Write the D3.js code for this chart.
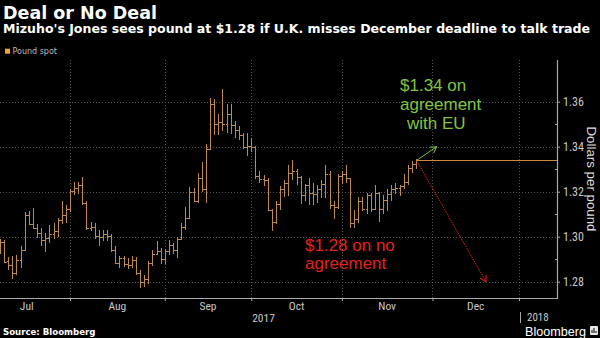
<!DOCTYPE html>
<html><head><meta charset="utf-8">
<script src="https://cdn.jsdelivr.net/npm/d3@7"></script>
<style>body{margin:0;background:#000;} svg{display:block;background:#000}</style>
</head><body>
<svg id="c" width="600" height="338"></svg>
<script>
// ---------- data ----------
const weekdayOrigin = "2017-07-03";
const firstDate = "2017-07-06";
const lastDate = "2017-11-24";

const open = [
 1.2930,1.2975,1.2890,1.2876,1.2840,1.2895,1.2940,1.3095,1.3058,1.3040,1.3015,1.2985,1.2995,1.3010,1.3025,1.3075,1.3095,1.3125,
 1.3205,1.3215,1.3230,1.3150,1.3040,1.3045,1.3005,1.3000,1.3010,1.3005,1.2940,1.2885,1.2905,1.2880,1.2875,1.2895,1.2840,1.2800,1.2810,1.2885,1.2925,1.2935,1.2900,
 1.2935,1.2965,1.2940,1.2990,1.3045,1.3085,1.3200,1.3160,1.3260,1.3210,1.3390,1.3590,1.3500,1.3510,1.3500,1.3545,1.3495,1.3475,1.3450,1.3400,1.3405,
 1.3400,1.3270,1.3255,1.3250,1.3120,1.3065,1.3145,1.3210,1.3240,1.3285,1.3290,1.3265,1.3185,1.3230,1.3195,1.3190,1.3210,1.3235,1.3280,1.3140,1.3130,1.3270,
 1.3280,1.3260,1.3060,1.3080,1.3160,1.3125,1.3185,1.3125,1.3195,1.3125,1.3165,1.3190,1.3210,1.3215,1.3225,1.3245,1.3305,1.3325
];
const high = [
 1.2990,1.2985,1.2910,1.2915,1.2918,1.2960,1.3110,1.3115,1.3126,1.3055,1.3040,1.3015,1.3050,1.3060,1.3085,1.3160,1.3140,1.3210,
 1.3245,1.3245,1.3267,1.3160,1.3065,1.3060,1.3030,1.3030,1.3030,1.3010,1.2960,1.2915,1.2915,1.2905,1.2915,1.2910,1.2850,1.2830,1.2890,1.2940,1.2980,1.2950,1.2945,
 1.2985,1.2970,1.3000,1.3060,1.3130,1.3222,1.3218,1.3285,1.3330,1.3410,1.3616,1.3610,1.3545,1.3657,1.3590,1.3590,1.3515,1.3490,1.3460,1.3460,1.3440,
 1.3405,1.3290,1.3275,1.3260,1.3125,1.3160,1.3225,1.3250,1.3320,1.3340,1.3300,1.3270,1.3235,1.3260,1.3240,1.3230,1.3250,1.3320,1.3290,1.3160,1.3280,1.3290,
 1.3320,1.3260,1.3120,1.3175,1.3175,1.3195,1.3195,1.3230,1.3200,1.3185,1.3210,1.3230,1.3240,1.3230,1.3280,1.3320,1.3335,1.3345
];
const low = [
 1.2925,1.2883,1.2850,1.2812,1.2830,1.2860,1.2935,1.3050,1.3035,1.2995,1.2960,1.2932,1.2970,1.2990,1.3000,1.3055,1.3060,1.3110,
 1.3185,1.3190,1.3140,1.3030,1.3025,1.2990,1.2960,1.2980,1.2980,1.2930,1.2880,1.2860,1.2865,1.2855,1.2860,1.2830,1.2774,1.2775,1.2790,1.2870,1.2920,1.2880,1.2880,
 1.2920,1.2925,1.2905,1.2985,1.3030,1.3080,1.3155,1.3150,1.3200,1.3150,1.3385,1.3450,1.3450,1.3470,1.3460,1.3455,1.3440,1.3430,1.3390,1.3360,1.3375,
 1.3255,1.3240,1.3225,1.3115,1.3027,1.3055,1.3120,1.3175,1.3180,1.3250,1.3230,1.3145,1.3160,1.3140,1.3140,1.3150,1.3170,1.3170,1.3125,1.3080,1.3125,1.3235,
 1.3240,1.3040,1.3040,1.3060,1.3115,1.3100,1.3110,1.3120,1.3065,1.3100,1.3115,1.3160,1.3190,1.3180,1.3210,1.3230,1.3285,1.3300
];
const close = [
 1.2975,1.2888,1.2876,1.2838,1.2895,1.2940,1.3095,1.3058,1.3040,1.3015,1.2985,1.2995,1.3010,1.3025,1.3075,1.3095,1.3125,1.3205,
 1.3215,1.3230,1.3150,1.3040,1.3045,1.3005,1.3000,1.3010,1.3005,1.2940,1.2885,1.2905,1.2880,1.2875,1.2895,1.2840,1.2800,1.2810,1.2885,1.2925,1.2935,1.2900,1.2935,
 1.2965,1.2940,1.2990,1.3045,1.3085,1.3200,1.3160,1.3260,1.3210,1.3390,1.3590,1.3500,1.3510,1.3500,1.3545,1.3495,1.3475,1.3450,1.3400,1.3405,1.3400,
 1.3270,1.3255,1.3250,1.3120,1.3065,1.3145,1.3210,1.3240,1.3285,1.3290,1.3265,1.3185,1.3230,1.3195,1.3190,1.3210,1.3235,1.3280,1.3140,1.3130,1.3270,1.3280,
 1.3260,1.3060,1.3080,1.3160,1.3125,1.3185,1.3125,1.3195,1.3125,1.3165,1.3190,1.3210,1.3215,1.3225,1.3245,1.3305,1.3325,1.3340
];

const yTicks = [1.28, 1.30, 1.32, 1.34, 1.36];
const yMinorTicks = [1.29, 1.31, 1.33, 1.35];
const monthLabels = ["Jul", "Aug", "Sep", "Oct", "Nov", "Dec"];
const monthStarts = ["2017-07-01","2017-08-01","2017-09-01","2017-10-01","2017-11-01","2017-12-01","2018-01-01"];
const yearLabels = ["2017", "2018"];
const scenarioUp = { date: "2017-12-01", value: 1.34, lines: ["$1.34 on", "agreement", "with EU"] };
const scenarioDown = { date: "2017-12-19", value: 1.28, lines: ["$1.28 on no", "agreement"] };

// ---------- helpers ----------
const parse = d3.timeParse("%Y-%m-%d");
const origin = parse(weekdayOrigin);
const isWeekday = d => d.getDay() !== 0 && d.getDay() !== 6;
const wIndex = d => d3.timeDay.range(origin, d).filter(isWeekday).length;

const dates = d3.timeDay.range(parse(firstDate), d3.timeDay.offset(parse(lastDate), 1)).filter(isWeekday);
const bars = dates.map((d, i) => ({ w: wIndex(d), o: open[i], h: high[i], l: low[i], c: close[i] }));

// ---------- layout ----------
const plot = { left: 0, right: 557, top: 60, bottom: 298 };
const x = d3.scaleLinear().domain([3.006, 138.23]).range([plot.left, plot.right]);
const y = d3.scaleLinear().domain([1.27276, 1.37764]).range([plot.bottom, 62]);

const svg = d3.select("#c");
const narrow = "'Liberation Sans Narrow','Roboto Condensed','Liberation Sans',Arial,sans-serif";

// titles
svg.append("text").attr("x", 3).attr("y", 18.5).text("Deal or No Deal")
  .attr("fill", "#fff").style("font", "bold 17.5px 'DejaVu Sans', sans-serif");
svg.append("text").attr("x", 3).attr("y", 33.3)
  .text("Mizuho's Jones sees pound at $1.28 if U.K. misses December deadline to talk trade")
  .attr("fill", "#fff").attr("textLength", 587).attr("lengthAdjust", "spacingAndGlyphs")
  .style("font", "bold 11.7px 'DejaVu Sans', sans-serif");

// legend
svg.append("rect").attr("x", 5).attr("y", 48.7).attr("width", 5).attr("height", 5).attr("fill", "#f5a23a");
svg.append("text").attr("x", 12.5).attr("y", 54.3).text("Pound spot")
  .attr("fill", "#bbb").style("font", "8px 'DejaVu Sans', sans-serif");

// grid
const boundaries = monthStarts.map(s => wIndex(parse(s)) - 1);
const grid = svg.append("g").attr("stroke", "#555").attr("stroke-dasharray", "1,2").attr("shape-rendering", "crispEdges");
grid.selectAll(".hg").data(yTicks).join("line")
  .attr("x1", plot.left).attr("x2", plot.right)
  .attr("y1", d => Math.round(y(d)) + 0.5).attr("y2", d => Math.round(y(d)) + 0.5);
grid.selectAll(".vg").data(boundaries.filter(b => x(b) > 0 && x(b) < plot.right)).join("line")
  .attr("x1", d => Math.round(x(d)) + 0.5).attr("x2", d => Math.round(x(d)) + 0.5)
  .attr("y1", plot.top).attr("y2", plot.bottom);

// bars
const barColor = "#bb8a4f";
svg.append("g").attr("stroke", barColor).attr("stroke-width", 1).attr("fill", "none")
  .attr("shape-rendering", "crispEdges")
  .selectAll("path").data(bars).join("path")
  .attr("d", b => {
    const cx = Math.round(x(b.w)) + 0.5;
    return `M${cx},${y(b.h)}V${y(b.l)}M${cx - 2},${Math.round(y(b.o)) + 0.5}H${cx}M${cx},${Math.round(y(b.c)) + 0.5}H${cx + 2}`;
  });

// last value line
const last = bars[bars.length - 1];
svg.append("line").attr("x1", x(last.w) + 1).attr("x2", plot.right)
  .attr("y1", Math.round(y(last.c)) + 0.5).attr("y2", Math.round(y(last.c)) + 0.5)
  .attr("stroke", "#c98a3c").attr("stroke-width", 1);

// arrows
const defs = svg.append("defs");
function marker(id, color) {
  defs.append("marker").attr("id", id).attr("viewBox", "-8 -5 10 10")
    .attr("markerUnits", "userSpaceOnUse").attr("markerWidth", 10).attr("markerHeight", 10)
    .attr("refX", 0).attr("refY", 0).attr("orient", "auto")
    .append("path").attr("d", "M-6,-3.5L0,0L-6,3.5").attr("fill", "none").attr("stroke", color).attr("stroke-width", 1);
}
const green = "#80c440", red = "#e2231d";
marker("ag", green); marker("ar", red);
svg.append("line").attr("x1", x(last.w) + 1).attr("y1", y(last.c))
  .attr("x2", x(wIndex(parse(scenarioUp.date)))).attr("y2", y(scenarioUp.value))
  .attr("stroke", green).attr("stroke-width", 1).attr("marker-end", "url(#ag)");
svg.append("line").attr("x1", x(last.w) + 1).attr("y1", y(last.c) + 1)
  .attr("x2", x(wIndex(parse(scenarioDown.date)))).attr("y2", y(scenarioDown.value))
  .attr("stroke", red).attr("stroke-width", 1).attr("stroke-dasharray", "1.5,1").attr("marker-end", "url(#ar)");

// annotation texts
const annFont = "17px 'Liberation Sans', Arial, sans-serif";
const upX = [400, 400, 407], upY = [91, 110, 129];
svg.append("g").selectAll("text").data(scenarioUp.lines).join("text")
  .attr("x", (d, i) => upX[i]).attr("y", (d, i) => upY[i]).text(d => d)
  .attr("fill", green).style("font", annFont);
const dnY = [250.5, 268.5];
svg.append("g").selectAll("text").data(scenarioDown.lines).join("text")
  .attr("x", 305).attr("y", (d, i) => dnY[i]).text(d => d)
  .attr("fill", red).style("font", annFont);

// right axis
const axR = svg.append("g").attr("transform", `translate(${plot.right},0)`)
  .call(d3.axisRight(y).tickValues(yTicks).tickSize(3).tickPadding(3).tickFormat(d3.format(".2f")));
axR.select(".domain").remove();
axR.selectAll(".tick line").attr("stroke", "#aaa");
axR.selectAll(".tick text").attr("fill", "#c8c8c8").style("font", `12px ${narrow}`);
svg.append("g").selectAll("line").data(yMinorTicks).join("line")
  .attr("x1", plot.right - 2).attr("x2", plot.right)
  .attr("y1", d => Math.round(y(d)) + 0.5).attr("y2", d => Math.round(y(d)) + 0.5).attr("stroke", "#aaa");
svg.append("line").attr("x1", plot.right + 0.5).attr("x2", plot.right + 0.5)
  .attr("y1", plot.top).attr("y2", plot.bottom + 0.5).attr("stroke", "#aaa").attr("stroke-width", 1.2);

// bottom axis
const axB = svg.append("g").attr("transform", `translate(0,${plot.bottom})`)
  .call(d3.axisBottom(x).tickValues(boundaries.filter(b => x(b) > 0)).tickSize(3).tickFormat(""));
axB.select(".domain").remove();
axB.selectAll(".tick line").attr("stroke", "#aaa");
svg.append("line").attr("x1", plot.left).attr("x2", plot.right + 1)
  .attr("y1", plot.bottom + 0.5).attr("y2", plot.bottom + 0.5).attr("stroke", "#aaa").attr("stroke-width", 1.2);

svg.append("g").selectAll("text").data(monthLabels).join("text")
  .attr("x", (d, i) => x((boundaries[i] + boundaries[i + 1]) / 2)).attr("y", 309.5)
  .attr("text-anchor", "middle").text(d => d)
  .attr("fill", "#c8c8c8").style("font", `11.5px ${narrow}`);

const yearEdge = x(boundaries[boundaries.length - 1]);
svg.append("text").attr("x", (0 + yearEdge) / 2 + 4).attr("y", 321.5).attr("text-anchor", "middle")
  .text(yearLabels[0]).attr("fill", "#c8c8c8").style("font", `11.5px ${narrow}`);
svg.append("text").attr("x", yearEdge + 8).attr("y", 320.5)
  .text(yearLabels[1]).attr("fill", "#c8c8c8").style("font", `11px ${narrow}`);
svg.append("line").attr("x1", Math.round(yearEdge) + 1.5).attr("x2", Math.round(yearEdge) + 1.5)
  .attr("y1", 312).attr("y2", 323).attr("stroke", "#aaa");

// y title
svg.append("text").attr("transform", "translate(587,179) rotate(90)").attr("text-anchor", "middle")
  .text("Dollars per pound").attr("fill", "#ddd").style("font", "13.3px 'Liberation Sans', Arial, sans-serif");

// footer
svg.append("text").attr("x", 3).attr("y", 334.5).text("Source: Bloomberg")
  .attr("fill", "#fff").style("font", "bold 8.6px 'DejaVu Sans', sans-serif");
svg.append("text").attr("x", 525).attr("y", 335.5).text("Bloomberg")
  .attr("fill", "#fff").attr("textLength", 61).attr("lengthAdjust", "spacingAndGlyphs")
  .style("font", "12.5px 'Liberation Sans', Arial, sans-serif");
svg.append("rect").attr("x", 590).attr("y", 326).attr("width", 8).attr("height", 9).attr("rx", 1).attr("fill", "#e8e8e8");
svg.append("path").attr("d", "M592,333V330M594,333V328M596,333V331").attr("stroke", "#000").attr("stroke-width", 1);
</script>
</body></html>
